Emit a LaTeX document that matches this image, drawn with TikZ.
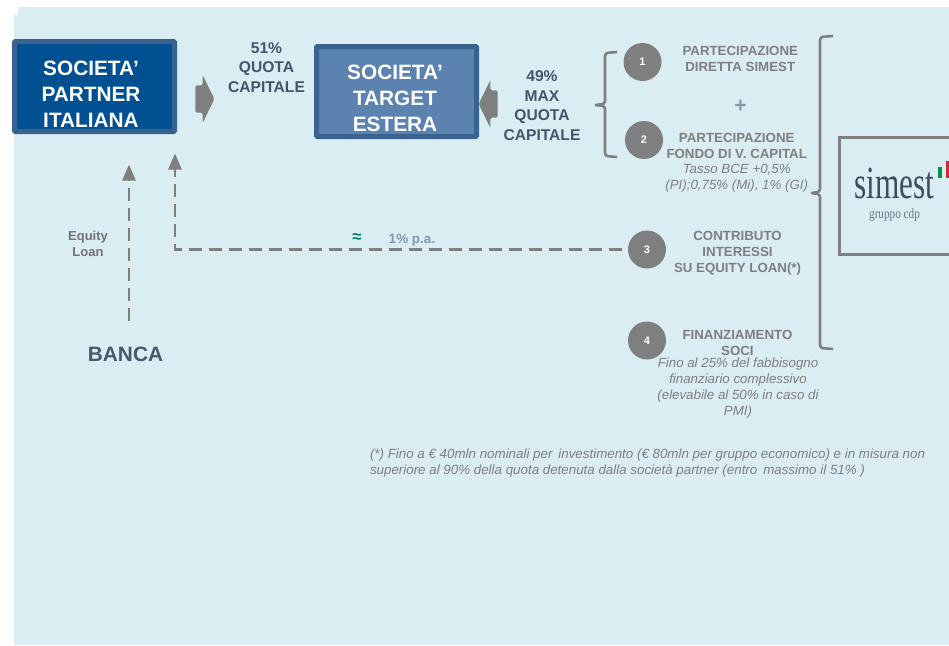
\documentclass[tikz,border=0pt]{standalone}
\usepackage{fontspec}
\setmainfont{Liberation Sans}
\newfontfamily\logofont{Liberation Serif}
\usepackage{tikz}
\usepackage{graphicx}
\usetikzlibrary{positioning}
\usetikzlibrary{shapes.arrows}
\usetikzlibrary{arrows.meta}
\definecolor{paleblue}{RGB}{218, 237, 243}
\definecolor{deepblue}{RGB}{0, 80, 146}
\definecolor{midblue}{RGB}{92, 130, 175}
\definecolor{edgeblue}{RGB}{58, 98, 144}
\definecolor{slate}{RGB}{68, 84, 106}
\definecolor{softblue}{RGB}{132, 151, 176}
\definecolor{midgray}{RGB}{127, 127, 127}
\definecolor{teal}{RGB}{0, 128, 106}
\definecolor{logoink}{RGB}{60, 78, 94}
\definecolor{logogray}{RGB}{110, 120, 130}
\definecolor{flaggreen}{RGB}{0, 146, 70}
\definecolor{flagred}{RGB}{206, 43, 55}

\begin{document}
\begin{tikzpicture}
  [
    x = 1pt,
    y = -1pt,
    every node/.style = {inner sep=0pt, outer sep=0pt}
  ]
  \useasboundingbox (0,0) rectangle (949,645);
  \fill [paleblue] (18,7) -- (949,7) -- (949,645) -- (14,645) -- (14,15) -- (18,15) -- cycle;
  \begin{scope}[partnerbox/.style={rectangle,draw=edgeblue,fill=deepblue,line width=5pt,rounded corners=1pt,minimum width=160pt,minimum height=90pt},
  			targetbox/.style={partnerbox,fill=midblue},
  			boxtext/.style={align=center,text=white,font=\fontsize{20.8}{26}\selectfont\bfseries},
  			quota/.style={align=center,text=slate,font=\fontsize{15.6}{19.5}\selectfont\bfseries},
  			blockarrow/.style={single arrow,fill=midgray,rounded corners=1.5pt,inner ysep=13.5pt,minimum height=19pt,single arrow head extend=10.5pt,single arrow tip angle=128,single arrow head indent=0pt},
  			step circle/.style={circle,fill=midgray,minimum size=38pt,text=white,font=\fontsize{11}{13}\selectfont\bfseries},
  			item/.style={align=center,text=midgray,font=\fontsize{13.3}{16}\selectfont\bfseries},
  			note/.style={align=center,text=midgray,font=\fontsize{13.3}{16}\selectfont\itshape},
  			dasharrow/.style={draw=midgray,line width=2.8pt,dash pattern=on 13pt off 7pt,-{Triangle[length=16pt,width=13pt]}},
  			bracket/.style={draw=midgray,line width=2.6pt,rounded corners=3pt,line join=round}]
  % left side
  \node [partnerbox] (partner) at (94.5,86.5) {};
  \node [boxtext] (partnertext) [xshift=-3.5pt,yshift=-7.5pt] at (partner.center) {SOCIETA’\\PARTNER\\ITALIANA};
  \node [targetbox] (target) [right=142pt of partner, yshift=-5pt] {};
  \node [boxtext] (targettext) [xshift=-1.5pt,yshift=-6.5pt] at (target.center) {SOCIETA’\\TARGET\\ESTERA};
  \node [blockarrow] (arrowa) at (201.5,99) {};
  \node [blockarrow,shape border rotate=180] (arrowb) at (491.5,104) {};
  \node [quota] (share) at (266.5,67.5) {51\%\\QUOTA\\CAPITALE};
  \node [quota] (maxshare) at (542,105.5) {49\%\\MAX\\QUOTA\\CAPITALE};
  \node [text=slate!90!gray,font=\fontsize{20.8}{24}\selectfont\bfseries] (bank) at (125.5,354) {BANCA};
  \node [align=center,text=midgray!90!black,font=\fontsize{13}{16}\selectfont\bfseries] (equity) at (88,243.5) {Equity\\Loan};
  % steps on the right
  \node [step circle] (one) at (642.5,62) {1};
  \node [step circle] (two) [below=40pt of one, xshift=1.5pt] {2};
  \node [step circle] (three) [below=71.5pt of two, xshift=3pt] {3};
  \node [step circle] (four) [below=53pt of three] {4};
  \node [item] (itemone) [right=21pt of one, yshift=3pt] {PARTECIPAZIONE\\DIRETTA SIMEST};
  \node [text=softblue,font=\fontsize{21}{24}\selectfont\bfseries] (plus) at (740.5,106) {+};
  \node [item] (itemtwo) [right=3.5pt of two, yshift=-5.5pt] {PARTECIPAZIONE\\FONDO DI V. CAPITAL};
  \node [note] (rate) [below=6pt of itemtwo] {Tasso BCE +0,5\%\\(PI);0,75\% (Mi), 1\% (GI)};
  \node [item] (itemthree) [right=8pt of three, yshift=-4pt] {CONTRIBUTO\\INTERESSI\\SU EQUITY LOAN(*)};
  \node [item] (itemfour) [right=16.5pt of four, yshift=-2pt] {FINANZIAMENTO\\SOCI};
  \node [note] (fund) at (738,388.5) {Fino al 25\% del fabbisogno\\finanziario complessivo\\(elevabile al 50\% in caso di\\PMI)};
  \node [align=left,text=midgray,font=\fontsize{13.35}{16}\selectfont\itshape,anchor=west] (footnote) at (370,463) {(*) Fino a € 40mln nominali per\, investimento (€ 80mln per gruppo economico) e in misura non\\superiore al 90\% della quota detenuta dalla società partner (entro\, massimo il 51\% )};
  \node [text=teal,font=\fontsize{17}{18}\selectfont\bfseries] (approx) at (357,238) {≈};
  \node [text=softblue,font=\fontsize{13.5}{16}\selectfont\bfseries] (interest) at (412,240) {1\% p.a.};
  % logo box
  \node [rectangle,draw=midgray,line width=3pt,minimum width=130pt,minimum height=117pt,anchor=north west] (logo) at (839.5,137.5) {};
  \node [text=logoink,font=\logofont\fontsize{46}{50}\selectfont,anchor=base,text depth=0pt] (simest) at (894.5,198) {\scalebox{0.68}[1]{simest}};
  \node [text=logogray,font=\logofont\fontsize{14}{16}\selectfont] (group) at (894.5,215.5) {\scalebox{0.8}[1]{gruppo cdp}};
  \fill [flaggreen] (938,167) rectangle (942,178);
  \fill [flagred] (946,161) rectangle (949,178);
  % connectors
  \coordinate (loanstart) at ([xshift=3.5pt,yshift=26pt]bank.north);
  \coordinate (loanend) at ([xshift=34.5pt,yshift=-33pt]partner.south);
  \coordinate (backend) at ([xshift=80.5pt,yshift=-22pt]partner.south);
  \draw [dasharrow] (loanstart) -- (loanend);
  \draw [dasharrow,shorten <=6pt] (three.west) -| (backend);
  % brackets
  \draw [bracket] (617,52) -- (605,53) -- (605,104) -- (594,105) -- (605,106) -- (605,156) -- (617,157);
  \draw [bracket] (833,36) -- (820,37) -- (820,192) -- (810,193) -- (820,194) -- (820,348) -- (833,349);
  \end{scope}
\end{tikzpicture}
\end{document}
